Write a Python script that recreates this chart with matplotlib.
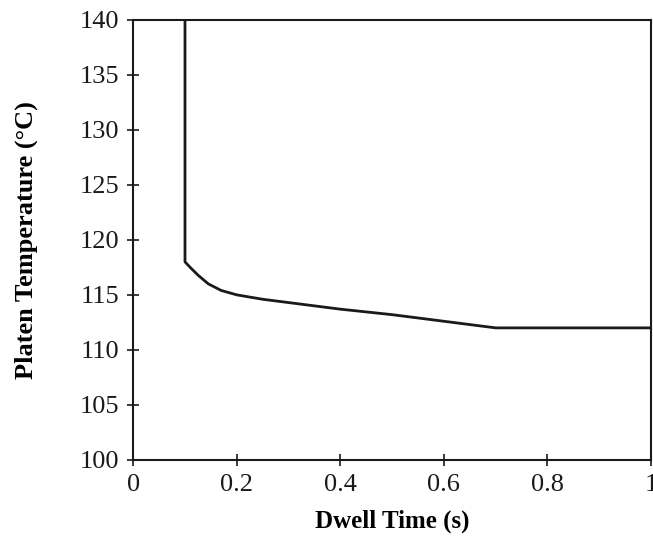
import matplotlib
matplotlib.use("Agg")
import matplotlib.pyplot as plt

# dwell time (s) vs platen temperature (C)
dwell = [0.1, 0.1, 0.11, 0.125, 0.145, 0.17, 0.2, 0.25, 0.3, 0.4, 0.5, 0.6, 0.7, 1.0]
temp = [140, 118, 117.5, 116.8, 116.0, 115.4, 115.0, 114.6, 114.3, 113.7, 113.2, 112.6, 112.0, 112.0]

x_ticks = [0, 0.2, 0.4, 0.6, 0.8, 1]
x_labels = ["0", "0.2", "0.4", "0.6", "0.8", "1"]
y_ticks = [100, 105, 110, 115, 120, 125, 130, 135, 140]

plt.rcParams['font.family'] = ['Liberation Serif', 'DejaVu Serif']

fig = plt.figure(figsize=(6.53, 5.36), dpi=100)
ax = fig.add_axes([0.204, 0.142, 0.793, 0.821])

ax.plot(dwell, temp, color='#1a1a1a', linewidth=2)

ax.set_xlim(0, 1)
ax.set_ylim(100, 140)
ax.set_xticks(x_ticks)
ax.set_xticklabels(x_labels)
ax.set_yticks(y_ticks)
ax.tick_params(direction='inout', length=8, width=1.2, labelsize=19, colors='#1a1a1a', pad=6)
for s in ax.spines.values():
    s.set_linewidth(1.5)
    s.set_color('#1a1a1a')

ax.set_xlabel('Dwell Time (s)', fontsize=18, fontweight='bold', labelpad=10)
ax.set_ylabel('Platen Temperature (°C)', fontsize=19, fontweight='bold', labelpad=30)

fig.savefig('out.png', dpi=100)
